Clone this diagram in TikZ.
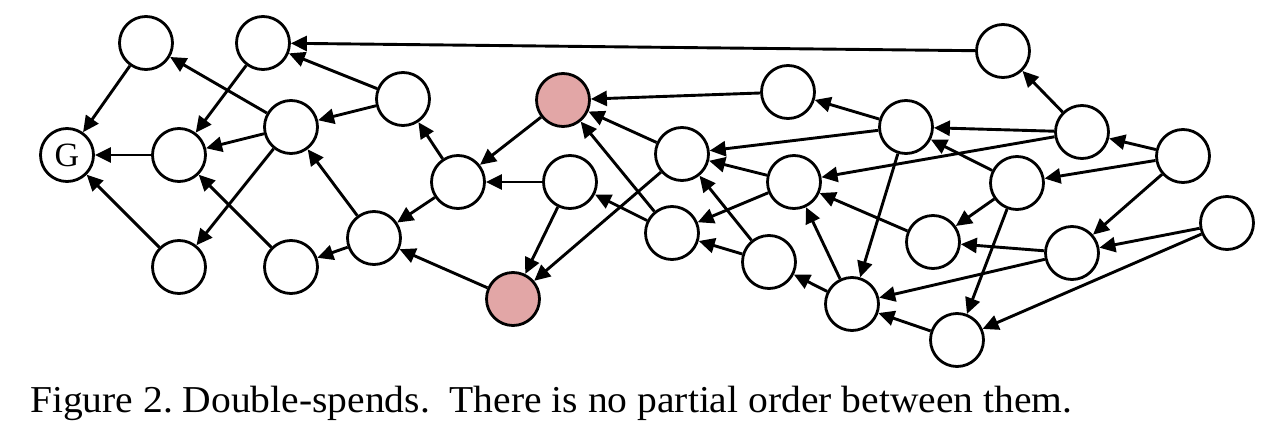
\documentclass[tikz,border=0pt]{standalone}
\usepackage{fontspec}
\setmainfont{Liberation Serif}
\usetikzlibrary{arrows.meta}
\definecolor{dsred}{RGB}{226,166,166}
\begin{document}
\begin{tikzpicture}[x=1pt,y=-1pt,
  tx/.style={circle,draw,line width=2.8pt,minimum size=53pt,inner sep=0pt,fill=white},
  dbl/.style={tx,fill=dsred},
  ed/.style={line width=2.9pt,-{Triangle[length=16pt,width=15pt]}}]
\useasboundingbox (0,0) rectangle (1263,431);
\node[tx,font=\fontsize{34}{34}\selectfont] (g) at (67,155) {G};
\node[tx] (a1) at (146,43) {};
\node[tx] (a2) at (263,43) {};
\node[tx] (b1) at (179,155) {};
\node[tx] (c1) at (291,127) {};
\node[tx] (d1) at (403,99) {};
\node[tx] (e1) at (179,267) {};
\node[tx] (e2) at (291,267) {};
\node[tx] (f1) at (374,238) {};
\node[tx] (h) at (458,182) {};
\node[dbl] (r1) at (563,100) {};
\node[tx] (i) at (570,182) {};
\node[dbl] (r2) at (513,299) {};
\node[tx] (j) at (682,154) {};
\node[tx] (k) at (788,92) {};
\node[tx] (l) at (672,233) {};
\node[tx] (m) at (794,182) {};
\node[tx] (n) at (769,262) {};
\node[tx] (o) at (852,304) {};
\node[tx] (p) at (1003,51) {};
\node[tx] (q) at (906,127) {};
\node[tx] (s) at (1082,132) {};
\node[tx] (t) at (1183,156) {};
\node[tx] (u) at (1017,183) {};
\node[tx] (v) at (933,242) {};
\node[tx] (w) at (1072,253) {};
\node[tx] (x) at (1227,223) {};
\node[tx] (y) at (957,340) {};
\foreach \a/\b in {a1/g,a2/b1,c1/a1,d1/a2,p/a2,d1/c1,c1/b1,b1/g,e1/g,c1/e1,e2/b1,f1/c1,f1/e2,h/f1,r2/f1,h/d1,
  r1/h,i/h,i/r2,j/r2,k/r1,j/r1,l/r1,l/i,q/j,q/k,m/j,m/l,n/j,n/l,o/n,o/m,q/o,u/q,u/v,u/y,v/m,s/q,s/p,s/m,t/s,t/u,t/w,w/v,w/o,x/w,x/y,y/o}
  \draw[ed] (\a) -- (\b);
\node[anchor=base west,inner sep=0pt] (cap) at (30,412) {\resizebox{1042pt}{\height}{\fontsize{38}{42}\selectfont\frenchspacing Figure 2. Double-spends.\ \ There is no partial order between them.}};
\end{tikzpicture}
\end{document}
